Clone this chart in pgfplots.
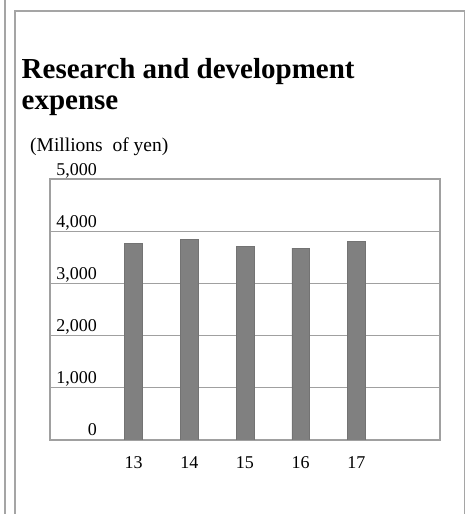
\documentclass[border=0pt]{standalone}
\usepackage{fontspec}
\setmainfont{Liberation Serif}
\usepackage{pgfplots}
\pgfplotsset{compat=1.18}
\definecolor{framegray}{RGB}{165,165,165}
\definecolor{gridgray}{RGB}{160,160,160}
\definecolor{barfill}{RGB}{128,128,128}
\definecolor{baredge}{RGB}{115,115,115}
\begin{document}
\begin{tikzpicture}[x=1pt,y=1pt]
\useasboundingbox (0,0) rectangle (470,514);
\fill[white] (0,0) rectangle (470,514);
% frame lines
\draw[framegray, line width=1.6pt] (5,0) -- (5,514);
\draw[framegray, line width=1.6pt] (15,0) -- (15,503) -- (464.3,503) -- (464.3,0);
% title
\node[anchor=base west, inner sep=0pt, font=\fontsize{29}{32}\selectfont\bfseries] at (21.5,514-78.3) {Research and development};
\node[anchor=base west, inner sep=0pt, font=\fontsize{29}{32}\selectfont\bfseries] at (21.5,514-110) {expense};
\node[anchor=base west, inner sep=0pt, font=\fontsize{19.5}{22}\selectfont] at (30,514-151.7) {(Millions\ \ of yen)};
\begin{axis}[
  at={(50pt,74pt)}, anchor=south west,
  scale only axis, width=390pt, height=261pt,
  xmin=11.5, xmax=18.5, ymin=0, ymax=5000,
  xtick={13,14,15,16,17}, ytick={0,1000,2000,3000,4000,5000},
  major tick length=0pt,
  axis line style={gridgray, line width=1.3pt},
  ymajorgrids, major grid style={gridgray, line width=1.3pt},
  /pgf/number format/assume math mode=true,
  /pgf/number format/1000 sep={,},
  ticklabel style={font=\fontsize{18}{20}\selectfont, text=black},
  yticklabel style={anchor=base east, inner sep=0pt, xshift=47pt, yshift=4pt},
  xticklabel style={anchor=base, inner sep=0pt, yshift=-29pt},
  ybar, bar width=17.7pt,
]
\addplot[fill=barfill, draw=baredge, line width=0.6pt] coordinates {
  (13,3768) (14,3850) (15,3710) (16,3678) (17,3799)
};
\end{axis}
\end{tikzpicture}
\end{document}
